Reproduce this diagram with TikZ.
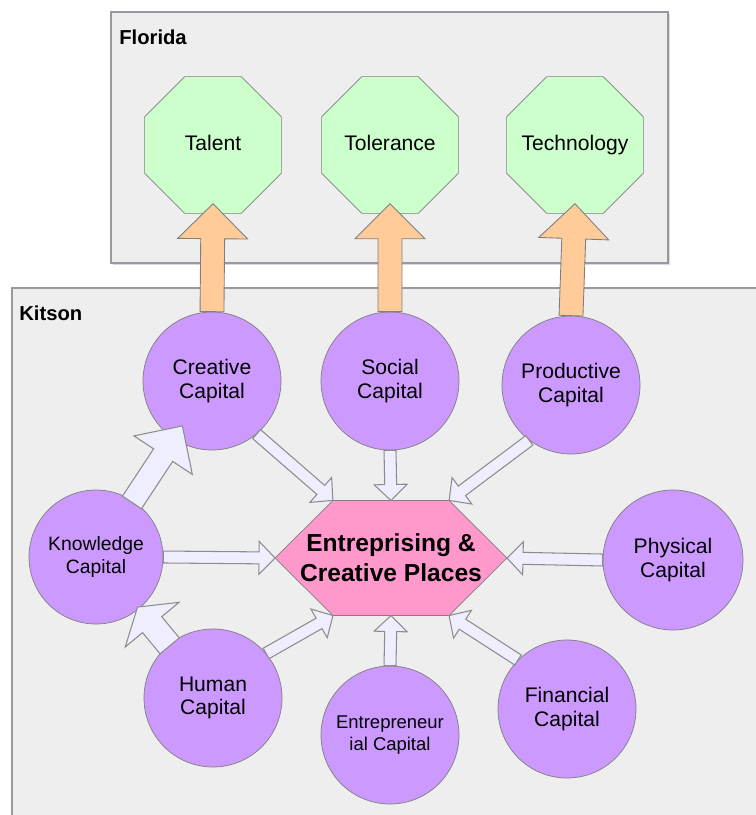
\documentclass[tikz,border=0pt]{standalone}
\usepackage{fontspec}
\setmainfont{Liberation Sans}
\usetikzlibrary{shapes}
\usetikzlibrary{calc}
\definecolor{panelgray}{HTML}{EEEEEE}
\definecolor{panelline}{HTML}{9A97A0}
\definecolor{nodeline}{HTML}{7F7F7F}
\definecolor{arrowline}{HTML}{8C8C8C}
\definecolor{octgreen}{HTML}{CCFFCC}
\definecolor{caplilac}{HTML}{CC99FF}
\definecolor{placepink}{HTML}{FF99CC}
\definecolor{liftorange}{HTML}{FFCC99}
\definecolor{feedblue}{HTML}{EEEEFF}
\tikzset{
    panel/.style = {draw=panelline, fill=panelgray, line width=0.8pt},
    panellabel/.style = {anchor=west, inner sep=0pt, font=\fontsize{11.5}{13}\selectfont\bfseries},
    octnode/.style = {regular polygon, regular polygon sides=8, draw=nodeline, fill=octgreen, minimum size=29.6mm, inner sep=0pt, text height=8.6pt, text depth=2.6pt, font=\fontsize{12}{14}\selectfont},
    capnode/.style = {circle, draw=nodeline, fill=caplilac, minimum size=27.6mm, inner sep=0pt, align=center, font=\fontsize{12}{13.5}\selectfont},
    hexa/.style = {draw=nodeline, fill=placepink},
    placenode/.style = {align=center, inner sep=0pt, font=\fontsize{14}{17}\selectfont\bfseries},
    lift/.style = {draw=nodeline, fill=liftorange, line width=0.5pt}, % up to the 3 T's
    feed/.style = {draw=arrowline, fill=feedblue, line width=0.6pt} % between the capitals
}
% block arrow: [style]{from}{to}{half shaft}{half head}{head length}
\newcommand{\blockarrow}[6][]{%
  \draw[#1] let \p1=(#2), \p2=(#3),
    \n1={atan2(\y2-\y1,\x2-\x1)}, \n2={veclen(\x2-\x1,\y2-\y1)} in
    [shift={(\p1)}, rotate=\n1]
    (0pt,-#4) -- ({\n2*1pt-#6},-#4) -- ({\n2*1pt-#6},-#5) -- ({\n2*1pt},0pt)
    -- ({\n2*1pt-#6},#5) -- ({\n2*1pt-#6},#4) -- (0pt,#4) -- cycle;
}

\begin{document}
\begin{tikzpicture}[x=0.2mm, y=-0.2mm]
  \useasboundingbox (0,0) rectangle (756,815);
  \clip (0,0) rectangle (756,815);

  % frames
  \fill[gray!30] (113,14) rectangle (670,265);
  \draw[panel] (111,12) rectangle (668,263);
  \node[panellabel] (fl) at (119,37) {Florida};
  \draw[panel] (12,288) rectangle (790,840);
  \node[panellabel] (ki) at (19,313) {Kitson};

  % Florida
  \node[octnode] (tal) at (213,145) {Talent};
  \node[octnode] (tol) at (390,145) {Tolerance};
  \node[octnode] (tech) at (575,145) {\makebox[0pt]{Technology}};

  % Kitson
  \node[capnode] (cc) at (212,381) {Creative\\Capital};
  \node[capnode] (sc) at (390,381) {Social\\Capital};
  \node[capnode] (pc) at (571,385) {Productive\\Capital};
  \node[capnode, minimum size=26.8mm, font=\fontsize{11}{13}\selectfont] (kc) at (96,557) {Knowledge\\Capital};
  \node[capnode, minimum size=28mm] (phc) at (673,560) {Physical\\Capital};
  \node[capnode] (hc) at (213,698) {Human\\Capital};
  \node[capnode, font=\fontsize{10.5}{12.5}\selectfont] (ec) at (390,735) {Entrepreneur\\ial Capital};
  \node[capnode] (fc) at (567,709) {Financial\\Capital};

  \coordinate (hx) at (391,558);
  \coordinate (hx-w) at ($(hx)+(-116,0)$);
  \coordinate (hx-nw) at ($(hx)+(-58,-57.5)$);
  \coordinate (hx-n) at ($(hx)+(0,-57.5)$);
  \coordinate (hx-ne) at ($(hx)+(58,-57.5)$);
  \coordinate (hx-e) at ($(hx)+(116,0)$);
  \coordinate (hx-se) at ($(hx)+(58,57.5)$);
  \coordinate (hx-s) at ($(hx)+(0,57.5)$);
  \coordinate (hx-sw) at ($(hx)+(-58,57.5)$);
  \draw[hexa] (hx-w) -- (hx-nw) -- (hx-ne) -- (hx-e) -- (hx-se) -- (hx-sw) -- cycle;
  \node[placenode] (ecp) at (hx) {Entreprising \&\\Creative Places};

  % arrows up
  \blockarrow[lift]{cc.north}{$(tal.south)+(0,-10)$}{6.8pt}{19.9pt}{19.9pt}
  \blockarrow[lift]{sc.north}{$(tol.south)+(0,-10)$}{6.8pt}{19.9pt}{19.9pt}
  \blockarrow[lift]{pc.north}{$(tech.south)+(0,-10)$}{6.8pt}{19.9pt}{19.9pt}

  % arrows into the places
  \blockarrow[feed]{cc.-50}{hx-nw}{3.4pt}{9.4pt}{9.1pt}
  \blockarrow[feed]{sc.south}{hx-n}{3.4pt}{9.4pt}{9.1pt}
  \blockarrow[feed]{pc.-127}{hx-ne}{3.4pt}{9.4pt}{9.1pt}
  \blockarrow[feed]{kc.east}{hx-w}{3.4pt}{9.4pt}{9.1pt}
  \blockarrow[feed]{phc.west}{hx-e}{3.4pt}{9.4pt}{9.1pt}
  \blockarrow[feed]{hc.40}{hx-sw}{3.4pt}{9.4pt}{9.1pt}
  \blockarrow[feed]{ec.north}{hx-s}{3.4pt}{9.4pt}{9.1pt}
  \blockarrow[feed]{fc.135}{hx-se}{3.4pt}{9.4pt}{9.1pt}

  % knowledge links
  \blockarrow[feed]{$(kc)!0.31!(cc)$}{$(kc)!0.745!(cc)$}{6.5pt}{19.9pt}{19.9pt}
  \blockarrow[feed]{$(hc)!0.37!(kc)$}{$(hc)!0.645!(kc)$}{7.1pt}{19.9pt}{13pt}
\end{tikzpicture}
\end{document}
